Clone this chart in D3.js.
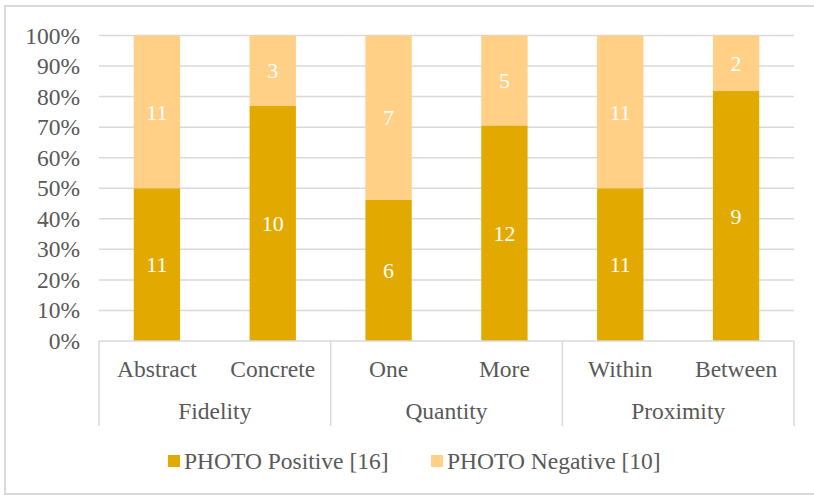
<!DOCTYPE html>
<html>
<head>
<meta charset="utf-8">
<script src="https://cdn.jsdelivr.net/npm/d3@7"></script>
<style>
  body { margin: 0; background: #fff; }
</style>
</head>
<body>
<div id="container"></div>
<script>
let w = 814;
let h = 495;

// data
let categories = ["Abstract", "Concrete", "One", "More", "Within", "Between"];
let groups = ["Fidelity", "Quantity", "Proximity"];
let groupOf = ["Fidelity", "Fidelity", "Quantity", "Quantity", "Proximity", "Proximity"];
let positive = [11, 10, 6, 12, 11, 9];
let negative = [11, 3, 7, 5, 11, 2];
let seriesNames = ["PHOTO Positive [16]", "PHOTO Negative [10]"];
let yTicks = [0, 0.1, 0.2, 0.3, 0.4, 0.5, 0.6, 0.7, 0.8, 0.9, 1];

let colPos = "#e2aa00";
let colNeg = "#ffd085";
let gridCol = "#d9d9d9";
let txtCol = "#595959";
let font = "Liberation Serif";

let viz = d3.select("#container")
  .append("svg")
    .attr("width", w)
    .attr("height", h)
    .attr("font-family", font)
;

// outer frame
viz.append("rect")
  .attr("x", 5).attr("y", 6)
  .attr("width", w).attr("height", 488)
  .attr("fill", "none")
  .attr("stroke", gridCol)
  .attr("stroke-width", 2);

let plotLeft = 99, plotRight = 794, plotTop = 35.5, plotBottom = 341;

let xScale = d3.scaleBand().domain(categories).range([plotLeft, plotRight]).paddingInner(0.6).paddingOuter(0.3);
let yScale = d3.scaleLinear().domain([0, 1]).range([plotBottom, plotTop]);

// gridlines
viz.append("g").selectAll("line").data(yTicks.slice(1)).join("line")
  .attr("x1", plotLeft).attr("x2", plotRight)
  .attr("y1", d => yScale(d)).attr("y2", d => yScale(d))
  .attr("stroke", gridCol).attr("stroke-width", 1.5);

// y axis labels
let yAxis = d3.axisLeft(yScale).tickValues(yTicks).tickFormat(d3.format(".0%")).tickSize(0).tickPadding(19);
let yAxisGroup = viz.append("g").attr("transform", "translate(" + plotLeft + ",0)").call(yAxis);
yAxisGroup.select(".domain").remove();
yAxisGroup.attr("font-family", font).attr("font-size", 23.5);
yAxisGroup.selectAll("text").attr("fill", txtCol);

// stacked data
let rows = categories.map((c, i) => {
  let tot = positive[i] + negative[i];
  return { cat: c, pos: positive[i], neg: negative[i], p: positive[i] / tot };
});

let barGroup = viz.append("g");
barGroup.selectAll(".pos").data(rows).join("rect").attr("class", "pos")
  .attr("x", d => xScale(d.cat)).attr("width", xScale.bandwidth())
  .attr("y", d => yScale(d.p)).attr("height", d => yScale(0) - yScale(d.p))
  .attr("fill", colPos);
barGroup.selectAll(".neg").data(rows).join("rect").attr("class", "neg")
  .attr("x", d => xScale(d.cat)).attr("width", xScale.bandwidth())
  .attr("y", d => yScale(1)).attr("height", d => yScale(d.p) - yScale(1))
  .attr("fill", colNeg);

// data labels
barGroup.selectAll(".lp").data(rows).join("text").attr("class", "lp")
  .attr("x", d => xScale(d.cat) + xScale.bandwidth() / 2)
  .attr("y", d => yScale(d.p / 2))
  .attr("dy", "0.35em").attr("text-anchor", "middle")
  .attr("font-size", 22).attr("fill", "#fff")
  .text(d => d.pos);
barGroup.selectAll(".ln").data(rows).join("text").attr("class", "ln")
  .attr("x", d => xScale(d.cat) + xScale.bandwidth() / 2)
  .attr("y", d => yScale((1 + d.p) / 2))
  .attr("dy", "0.35em").attr("text-anchor", "middle")
  .attr("font-size", 22).attr("fill", "#fff")
  .text(d => d.neg);

// category axis
viz.append("line")
  .attr("x1", plotLeft).attr("x2", plotRight).attr("y1", plotBottom).attr("y2", plotBottom)
  .attr("stroke", gridCol).attr("stroke-width", 1.5);

let groupBounds = groups.map(g => {
  let cs = categories.filter((c, i) => groupOf[i] === g);
  let x0 = xScale(cs[0]) - xScale.step() * xScale.paddingInner() / 2;
  let x1 = xScale(cs[cs.length - 1]) + xScale.bandwidth() + xScale.step() * xScale.paddingInner() / 2;
  return { g: g, x0: x0, x1: x1 };
});
groupBounds[0].x0 = plotLeft;
groupBounds[groupBounds.length - 1].x1 = plotRight;

let dividers = [plotLeft].concat(groupBounds.map(d => d.x1));
viz.append("g").selectAll("line").data(dividers).join("line")
  .attr("x1", d => d).attr("x2", d => d)
  .attr("y1", plotBottom).attr("y2", 426)
  .attr("stroke", gridCol).attr("stroke-width", 1.5);

viz.append("g").selectAll("text").data(categories).join("text")
  .attr("x", d => xScale(d) + xScale.bandwidth() / 2)
  .attr("y", 377)
  .attr("text-anchor", "middle")
  .attr("font-size", 23.5).attr("fill", txtCol)
  .text(d => d);

viz.append("g").selectAll("text").data(groupBounds).join("text")
  .attr("x", d => (d.x0 + d.x1) / 2)
  .attr("y", 419)
  .attr("text-anchor", "middle")
  .attr("font-size", 23.5).attr("fill", txtCol)
  .text(d => d.g);

// legend
let legendX = [168, 431];
let legend = viz.append("g").selectAll("g").data(seriesNames).join("g")
  .attr("transform", (d, i) => "translate(" + legendX[i] + ",455)");
legend.append("rect").attr("width", 12).attr("height", 12)
  .attr("fill", (d, i) => i === 0 ? colPos : colNeg);
legend.append("text").attr("x", 16).attr("y", 14)
  .attr("font-size", 23.5).attr("fill", txtCol)
  .text(d => d);
</script>
</body>
</html>
